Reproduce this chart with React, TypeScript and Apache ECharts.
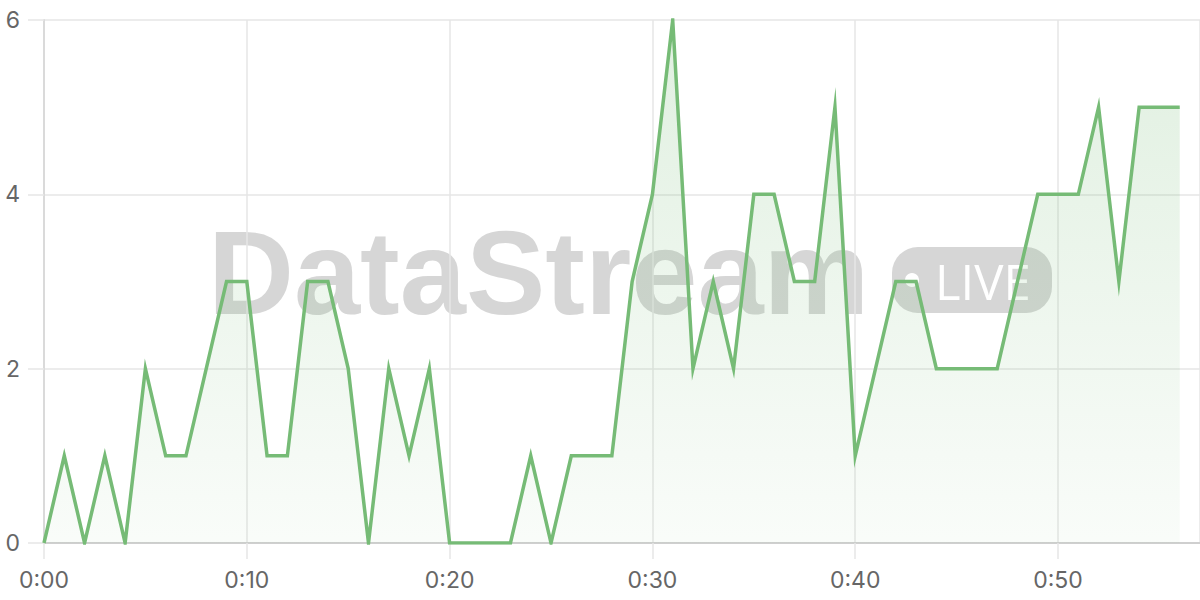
import React, { useEffect, useRef } from "react";
import * as echarts from "echarts";

const minutes: number[] = Array.from({ length: 57 }, (_, i) => i);
const values: number[] = [
  0, 1, 0, 1, 0, 2, 1, 1, 2, 3,
  3, 1, 1, 3, 3, 2, 0, 2, 1, 2,
  0, 0, 0, 0, 1, 0, 1, 1, 1, 3,
  4, 6, 2, 3, 2, 4, 4, 3, 3, 5,
  1, 2, 3, 3, 2, 2, 2, 2, 3, 4,
  4, 4, 5, 3, 5, 5, 5,
];
const yTicks: number[] = [0, 2, 4, 6];
const watermarkTitle = "DataStream";
const watermarkBadge = "LIVE";

function fmtMinute(v: number): string {
  const m = Math.round(v);
  return "0:" + (m < 10 ? "0" + m : String(m));
}

export default function App() {
  const ref = useRef<HTMLDivElement>(null);
  useEffect(() => {
    if (!ref.current) return;
    const chart = echarts.init(ref.current, undefined, { renderer: "svg" });
    const data = minutes.map((m, i) => [m, values[i]]);
    const wmColor = "rgba(140,140,140,0.36)";
    chart.setOption({
      animation: false,
      backgroundColor: "#ffffff",
      textStyle: { fontFamily: "Inter, 'Liberation Sans', sans-serif" },
      grid: { left: 44, right: 0, top: 20, bottom: 57, containLabel: false },
      xAxis: {
        type: "value",
        min: 0,
        max: 57,
        interval: 10,
        axisLine: { show: true, lineStyle: { color: "#cfcfcf", width: 2 } },
        axisTick: { show: true, length: 16, lineStyle: { color: "#e6e6e6", width: 1.5 } },
        splitLine: { show: true, lineStyle: { color: "#e6e6e6", width: 1.5 } },
        axisLabel: {
          showMaxLabel: false,
          color: "#666666",
          fontSize: 23,
          margin: 25,
          formatter: (v: number) => (v % 10 === 0 ? fmtMinute(v) : ""),
        },
      },
      yAxis: {
        type: "value",
        min: yTicks[0],
        max: yTicks[yTicks.length - 1],
        interval: 2,
        axisLine: { show: true, lineStyle: { color: "#dadada", width: 2 } },
        axisTick: { show: true, length: 16, lineStyle: { color: "#e6e6e6", width: 1.5 } },
        splitLine: { show: true, lineStyle: { color: "#e6e6e6", width: 1.5 } },
        axisLabel: {
          color: "#666666",
          fontSize: 23,
          margin: 24,
          align: "right",
          formatter: (v: number) => String(v),
        },
      },
      graphic: [
        {
          type: "group",
          z: -10,
          zlevel: 0,
          silent: true,
          children: [
            {
              type: "text",
              x: 208,
              y: 272,
              style: {
                text: watermarkTitle,
                fill: wmColor,
                font: "bold 119px 'Liberation Sans', Arial, sans-serif",
                verticalAlign: "middle",
              },
            },
            {
              type: "rect",
              shape: { x: 892, y: 247, width: 160, height: 66, r: 26 },
              style: { fill: wmColor },
            },
            {
              type: "circle",
              shape: { cx: 912, cy: 280, r: 7 },
              style: { fill: "#ffffff" },
            },
            {
              type: "text",
              x: 935,
              y: 281,
              style: {
                text: watermarkBadge,
                fill: "#ffffff",
                font: "400 49px 'Open Sans', sans-serif",
                verticalAlign: "middle",
              },
            },
          ],
        },
      ],
      series: [
        {
          type: "line",
          data,
          showSymbol: false,
          smooth: false,
          z: 5,
          lineStyle: { color: "#76bb76", width: 3.5, join: "miter", miterLimit: 20 },
          areaStyle: {
            color: new echarts.graphic.LinearGradient(0, 0, 0, 1, [
              { offset: 0, color: "rgba(118,187,118,0.32)" },
              { offset: 1, color: "rgba(118,187,118,0.06)" },
            ]),
          },
        },
      ],
    });
    return () => chart.dispose();
  }, []);
  return (
    <div
      ref={ref}
      style={{ position: "fixed", left: 0, top: 0, width: 1200, height: 600 }}
    />
  );
}
